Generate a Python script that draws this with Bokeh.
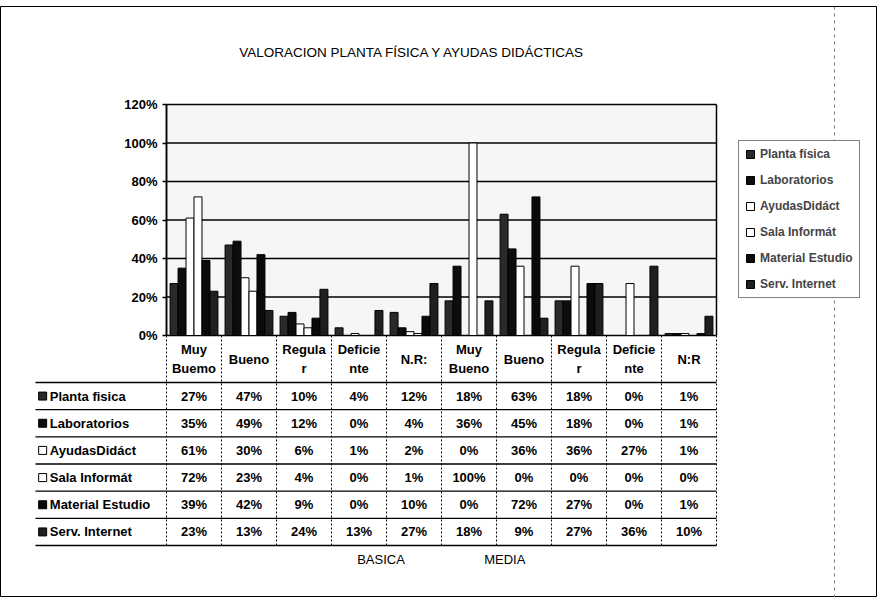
from bokeh.plotting import figure
from bokeh.models import (Range1d, FixedTicker, NumeralTickFormatter, Legend, LegendItem,
                          ColumnDataSource, LinearAxis, Span)
from bokeh.core.properties import value
from bokeh.embed import file_html
from bokeh.resources import INLINE

# ---------------- data ----------------
TITLE = "VALORACION PLANTA FÍSICA Y AYUDAS DIDÁCTICAS"
CATEGORIES = ["Muy\nBuemo", "Bueno", "Regula\nr", "Deficie\nnte", "N.R:",
              "Muy\nBueno", "Bueno", "Regula\nr", "Deficie\nnte", "N:R"]
GROUPS = ["BASICA", "MEDIA"]
SERIES = ["Planta física", "Laboratorios", "AyudasDidáct", "Sala Informát",
          "Material Estudio", "Serv. Internet"]
TABLE_LABELS = ["Planta fisica", "Laboratorios", "AyudasDidáct", "Sala Informát",
                "Material Estudio", "Serv. Internet"]
planta = [27, 47, 10, 4, 12, 18, 63, 18, 0, 1]
laboratorios = [35, 49, 12, 0, 4, 36, 45, 18, 0, 1]
ayudas = [61, 30, 6, 1, 2, 0, 36, 36, 27, 1]
sala = [72, 23, 4, 0, 1, 100, 0, 0, 0, 0]
material = [39, 42, 9, 0, 10, 0, 72, 27, 0, 1]
internet = [23, 13, 24, 13, 27, 18, 9, 27, 36, 10]
VALUES = [planta, laboratorios, ayudas, sala, material, internet]
Y_TICKS = [0, 0.2, 0.4, 0.6, 0.8, 1.0, 1.2]

# ---------------- layout / styles ----------------
COLORS = ["#2a2a2a", "#0d0d0d", "#ffffff", "#ffffff", "#0a0a0a", "#1f1f1f"]
FONT = "Liberation Sans"
TOP_SHIFT = 6             # the scanned frame starts a little lower
W, H = 877, 591           # whole figure (frame == figure)
N = len(CATEGORIES)
CAT_PX = 55.0             # pixels per category
X0_PX = 166.0             # left edge of plot area inside the figure
Y0_PX = 335.0 - TOP_SHIFT # 0% line inside the figure (from top)
UNIT_PX = 231.0 / 1.2     # pixels per 100%
BAR_W = 0.145
LABEL_W = 131 / CAT_PX    # width of the table's label column (category units)
HEADER_H = 47
ROW_H = (210 - HEADER_H) / 6.0

p = figure(width=W, height=H,
           x_range=Range1d(-X0_PX / CAT_PX, (W - X0_PX) / CAT_PX),
           y_range=Range1d(-(H - Y0_PX) / UNIT_PX, Y0_PX / UNIT_PX),
           output_backend="svg", toolbar_location=None,
           x_axis_location=None, y_axis_location=None,
           min_border_left=0, min_border_right=0, min_border_top=0, min_border_bottom=0,
           styles={"margin-top": f"{TOP_SHIFT}px"})
# pixel-like range (downwards from the 0% line) for table and texts
p.extra_y_ranges = {"px": Range1d(start=H - Y0_PX, end=-Y0_PX)}
p.xgrid.visible = False
p.ygrid.visible = False
p.background_fill_color = "white"
p.border_fill_color = "white"
p.outline_line_color = "black"
p.outline_line_width = 1

# plot area background
ymax = Y_TICKS[-1]
p.quad(left=[0], right=[N], bottom=[0], top=[ymax], fill_color="#f6f6f6",
       line_color=None)
# gridlines and plot-area sides
p.segment(x0=[0] * len(Y_TICKS), x1=[N] * len(Y_TICKS), y0=Y_TICKS, y1=Y_TICKS,
          line_color="black", line_width=1.5)
p.segment(x0=[0, N], x1=[0, N], y0=[0, 0], y1=[ymax, ymax], line_color="black",
          line_width=1.5)

# y axis (fixed at the plot area's left edge)
yax = LinearAxis(fixed_location=0, bounds=(0, ymax), ticker=FixedTicker(ticks=Y_TICKS),
                 formatter=NumeralTickFormatter(format="0%"))
yax.major_label_text_font = FONT
yax.major_label_text_font_size = "13px"
yax.major_label_text_font_style = "bold"
yax.major_label_text_color = "black"
yax.axis_line_color = "black"
yax.axis_line_width = 1.5
yax.major_tick_out = 4
yax.major_tick_in = 0
yax.major_tick_line_width = 1.5
yax.minor_tick_line_color = None
yax.major_label_standoff = 5
p.add_layout(yax, "left")

# bars
items = []
for j, (name, vals) in enumerate(zip(SERIES, VALUES)):
    src = ColumnDataSource(dict(
        x=[i + 0.5 + (j - 2.5) * BAR_W for i in range(N)],
        top=[v / 100.0 for v in vals]))
    r = p.vbar(x="x", top="top", width=BAR_W, source=src, fill_color=COLORS[j],
               line_color="black", line_width=1)
    items.append(LegendItem(label=name, renderers=[r]))

legend = Legend(items=items, location=(738, 299), margin=0, padding=6,
                spacing=12, label_height=14, glyph_height=10, glyph_width=10,
                label_standoff=5, label_text_font=FONT, label_text_font_size="12px",
                label_text_font_style="bold", border_line_color="black",
                border_line_width=1, background_fill_color="white",
                background_fill_alpha=1)
p.add_layout(legend)

# title
p.text(x=[(420 - 8 - X0_PX) / CAT_PX], y=[-283], y_range_name="px", text=[TITLE],
       text_align="center", text_baseline="middle", text_font=value(FONT),
       text_font_size="13.5px", text_color="black")

# ---------------- data table ----------------
row_lines_y = [HEADER_H + ROW_H * k for k in range(len(SERIES) + 1)]
table_bottom = row_lines_y[-1]
p.segment(x0=[-LABEL_W] * len(row_lines_y), x1=[N] * len(row_lines_y),
          y0=row_lines_y, y1=row_lines_y, y_range_name="px",
          line_color="black", line_width=1.3)
p.segment(x0=list(range(N + 1)), x1=list(range(N + 1)), y0=[0] * (N + 1),
          y1=[table_bottom] * (N + 1), y_range_name="px", line_color="black",
          line_width=1, line_dash="2 2")

p.text(x=[i + 0.5 for i in range(N)], y=[HEADER_H / 2.0] * N, text=CATEGORIES,
       y_range_name="px", text_align="center", text_baseline="middle",
       text_font=value(FONT), text_font_size="13px", text_font_style="bold",
       text_line_height=1.3, text_color="black")

row_centers = [HEADER_H + ROW_H * (k + 0.5) for k in range(len(SERIES))]
p.scatter(x=[-LABEL_W + 0.13] * len(SERIES), y=row_centers, y_range_name="px",
          marker="square", size=8, fill_color=COLORS, line_color="black", line_width=1)
p.text(x=[-LABEL_W + 0.26] * len(SERIES), y=row_centers, text=TABLE_LABELS,
       y_range_name="px", text_align="left", text_baseline="middle",
       text_font=value(FONT), text_font_size="13px", text_font_style="bold",
       text_color="black")

xs, ys, txt = [], [], []
for k, vals in enumerate(VALUES):
    for i, v in enumerate(vals):
        xs.append(i + 0.5)
        ys.append(row_centers[k])
        txt.append(f"{v}%")
p.text(x=xs, y=ys, text=txt, y_range_name="px", text_align="center",
       text_baseline="middle", text_font=value(FONT), text_font_size="13px",
       text_font_style="bold", text_color="black")

p.text(x=[3.9, 6.15], y=[table_bottom + 14] * 2, text=GROUPS, y_range_name="px",
       text_align="center", text_baseline="middle", text_font=value(FONT),
       text_font_size="13px", text_color="black")

# dashed page guide seen in the scan
p.add_layout(Span(location=(842 - 8 - X0_PX) / CAT_PX, dimension="height",
                  line_color="#777777", line_width=1, line_dash="3 4"))

open("out.html", "w").write(file_html(p, INLINE))
